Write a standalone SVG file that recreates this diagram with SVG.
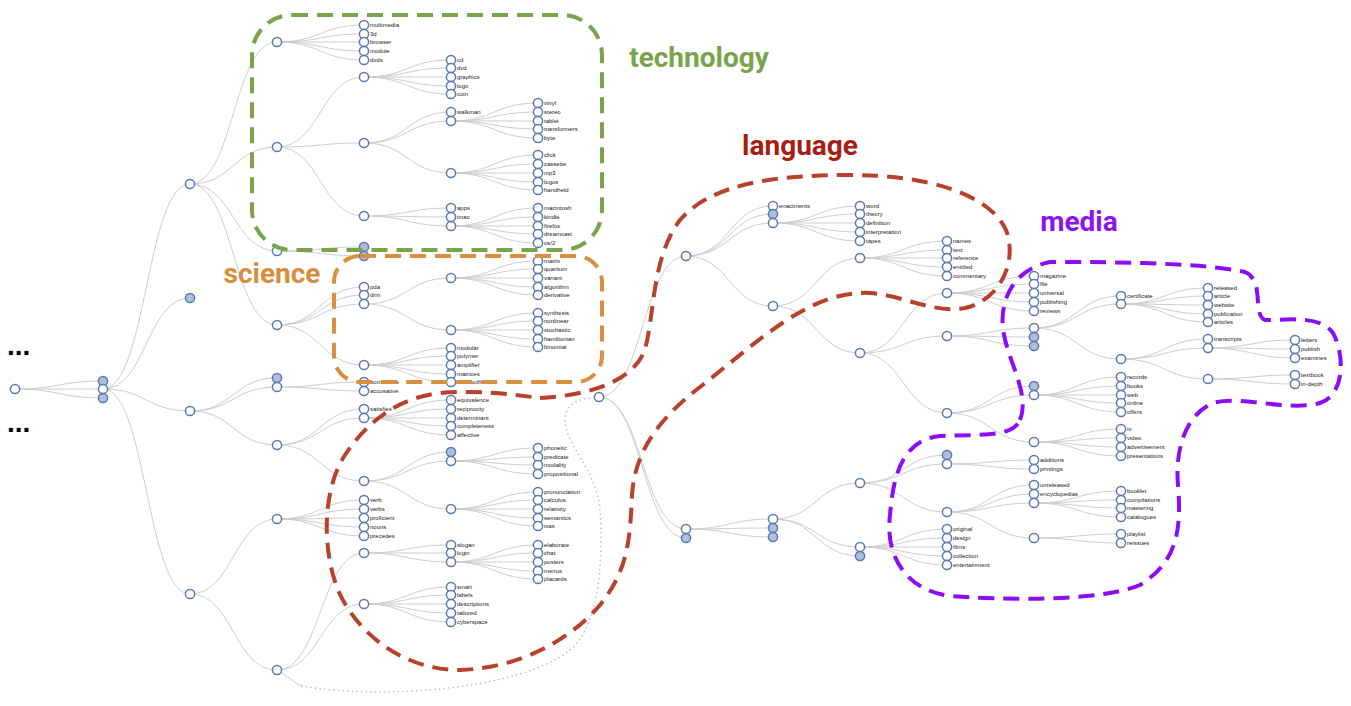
<svg xmlns="http://www.w3.org/2000/svg" width="1351" height="706" viewBox="0 0 1351 706">
<style>
.e path{fill:none;stroke:#cdcdcd;stroke-width:1}
.e path.dot{stroke:#bdbdbd;stroke-width:1.6;stroke-dasharray:0.1 4.5;stroke-linecap:round}
.n circle{fill:#fff;stroke:#5a78b4;stroke-width:1.5}
.n.c circle{fill:#b0bedd}
.n text{font-family:"Liberation Sans",Arial,sans-serif;font-size:6px;fill:#222}
.blob{fill:none;stroke-width:4;stroke-dasharray:16 9}
.title{font-family:Roboto,"Liberation Sans",sans-serif;font-weight:bold;font-size:28px;text-anchor:middle}
.more{font-family:"Liberation Sans",Arial,sans-serif;font-weight:bold;font-size:28px;fill:#000}
</style>
<rect width="1351" height="706" fill="#fff"/>
<g id="links" class="e">
<path d="M15,389C59,389 59,381 103,381M15,389H103M15,389C59,389 59,398 103,398"/>
<path d="M103,389C146.5,389 146.5,184 190,184M103,389C146.5,389 146.5,298 190,298M103,389C146.5,389 146.5,411 190,411M103,389C146.5,389 146.5,594 190,594"/>
<path d="M190,184C233.5,184 233.5,42 277,42M190,184C233.5,184 233.5,147 277,147M190,184C233.5,184 233.5,251 277,251M190,184C233.5,184 233.5,325 277,325"/>
<path d="M190,411C233.5,411 233.5,378 277,378M190,411C233.5,411 233.5,387 277,387M190,411C233.5,411 233.5,445 277,445"/>
<path d="M190,594C233.5,594 233.5,519 277,519M190,594C233.5,594 233.5,670 277,670"/>
<path d="M277,42C320.5,42 320.5,25 364,25M277,42C320.5,42 320.5,34 364,34M277,42H364M277,42C320.5,42 320.5,51 364,51M277,42C320.5,42 320.5,60 364,60"/>
<path d="M277,147C320.5,147 320.5,77 364,77M277,147C320.5,147 320.5,143 364,143M277,147C320.5,147 320.5,216 364,216"/>
<path d="M277,251C320.5,251 320.5,247 364,247M277,251C320.5,251 320.5,256 364,256"/>
<path d="M277,325C320.5,325 320.5,287 364,287M277,325C320.5,325 320.5,295 364,295M277,325C320.5,325 320.5,304 364,304M277,325C320.5,325 320.5,365 364,365"/>
<path d="M277,387C320.5,387 320.5,382 364,382M277,387C320.5,387 320.5,391 364,391"/>
<path d="M277,445C320.5,445 320.5,409 364,409M277,445C320.5,445 320.5,418 364,418M277,445C320.5,445 320.5,481 364,481"/>
<path d="M277,519C320.5,519 320.5,500 364,500M277,519C320.5,519 320.5,509 364,509M277,519C320.5,519 320.5,518 364,518M277,519C320.5,519 320.5,527 364,527M277,519C320.5,519 320.5,536 364,536"/>
<path d="M277,670C320.5,670 320.5,553 364,553M277,670C320.5,670 320.5,604 364,604"/>
<path d="M364,77C407.5,77 407.5,60 451,60M364,77C407.5,77 407.5,68 451,68M364,77H451M364,77C407.5,77 407.5,86 451,86M364,77C407.5,77 407.5,94 451,94"/>
<path d="M364,143C407.5,143 407.5,112 451,112M364,143C407.5,143 407.5,121 451,121M364,143C407.5,143 407.5,173 451,173"/>
<path d="M364,216C407.5,216 407.5,208 451,208M364,216C407.5,216 407.5,217 451,217M364,216C407.5,216 407.5,226 451,226"/>
<path d="M364,304C407.5,304 407.5,278 451,278M364,304C407.5,304 407.5,330 451,330"/>
<path d="M364,365C407.5,365 407.5,348 451,348M364,365C407.5,365 407.5,356 451,356M364,365H451M364,365C407.5,365 407.5,374 451,374M364,365C407.5,365 407.5,382 451,382"/>
<path d="M364,418C407.5,418 407.5,400 451,400M364,418C407.5,418 407.5,409 451,409M364,418H451M364,418C407.5,418 407.5,426 451,426M364,418C407.5,418 407.5,435 451,435"/>
<path d="M364,481C407.5,481 407.5,452 451,452M364,481C407.5,481 407.5,461 451,461M364,481C407.5,481 407.5,509 451,509"/>
<path d="M364,553C407.5,553 407.5,545 451,545M364,553H451M364,553C407.5,553 407.5,562 451,562"/>
<path d="M364,604C407.5,604 407.5,587 451,587M364,604C407.5,604 407.5,595 451,595M364,604H451M364,604C407.5,604 407.5,613 451,613M364,604C407.5,604 407.5,622 451,622"/>
<path d="M451,121C494.5,121 494.5,103 538,103M451,121C494.5,121 494.5,112 538,112M451,121H538M451,121C494.5,121 494.5,129 538,129M451,121C494.5,121 494.5,138 538,138"/>
<path d="M451,173C494.5,173 494.5,155 538,155M451,173C494.5,173 494.5,164 538,164M451,173H538M451,173C494.5,173 494.5,182 538,182M451,173C494.5,173 494.5,190 538,190"/>
<path d="M451,226C494.5,226 494.5,208 538,208M451,226C494.5,226 494.5,217 538,217M451,226H538M451,226C494.5,226 494.5,234 538,234M451,226C494.5,226 494.5,243 538,243"/>
<path d="M451,278C494.5,278 494.5,261 538,261M451,278C494.5,278 494.5,269 538,269M451,278H538M451,278C494.5,278 494.5,287 538,287M451,278C494.5,278 494.5,295 538,295"/>
<path d="M451,330C494.5,330 494.5,313 538,313M451,330C494.5,330 494.5,321 538,321M451,330H538M451,330C494.5,330 494.5,339 538,339M451,330C494.5,330 494.5,347 538,347"/>
<path d="M451,461C494.5,461 494.5,448 538,448M451,461C494.5,461 494.5,457 538,457M451,461C494.5,461 494.5,465 538,465M451,461C494.5,461 494.5,474 538,474"/>
<path d="M451,509C494.5,509 494.5,492 538,492M451,509C494.5,509 494.5,500 538,500M451,509H538M451,509C494.5,509 494.5,518 538,518M451,509C494.5,509 494.5,526 538,526"/>
<path d="M451,562C494.5,562 494.5,545 538,545M451,562C494.5,562 494.5,553 538,553M451,562H538M451,562C494.5,562 494.5,571 538,571M451,562C494.5,562 494.5,579 538,579"/>
<path d="M599,397C642.5,397 642.5,256 686,256M599,397C642.5,397 642.5,529 686,529M599,397C642.5,397 642.5,538 686,538"/>
<path d="M686,256C729.5,256 729.5,206 773,206M686,256C729.5,256 729.5,214 773,214M686,256C729.5,256 729.5,223 773,223M686,256C729.5,256 729.5,306 773,306"/>
<path d="M773,223C816.5,223 816.5,206 860,206M773,223C816.5,223 816.5,214 860,214M773,223H860M773,223C816.5,223 816.5,232 860,232M773,223C816.5,223 816.5,241 860,241"/>
<path d="M773,306C816.5,306 816.5,258 860,258M773,306C816.5,306 816.5,353 860,353"/>
<path d="M860,258C903.5,258 903.5,241 947,241M860,258C903.5,258 903.5,250 947,250M860,258H947M860,258C903.5,258 903.5,267 947,267M860,258C903.5,258 903.5,276 947,276"/>
<path d="M860,353C903.5,353 903.5,293 947,293M860,353C903.5,353 903.5,336 947,336M860,353C903.5,353 903.5,413 947,413"/>
<path d="M947,293C990.5,293 990.5,276 1034,276M947,293C990.5,293 990.5,284 1034,284M947,293H1034M947,293C990.5,293 990.5,302 1034,302M947,293C990.5,293 990.5,311 1034,311"/>
<path d="M947,336C990.5,336 990.5,328 1034,328M947,336C990.5,336 990.5,337 1034,337M947,336C990.5,336 990.5,346 1034,346"/>
<path d="M947,413C990.5,413 990.5,386 1034,386M947,413C990.5,413 990.5,395 1034,395M947,413C990.5,413 990.5,442 1034,442"/>
<path d="M1034,328C1077.5,328 1077.5,296 1121,296M1034,328C1077.5,328 1077.5,304 1121,304M1034,328C1077.5,328 1077.5,359 1121,359"/>
<path d="M1121,304C1164.5,304 1164.5,288 1208,288M1121,304C1164.5,304 1164.5,296 1208,296M1121,304C1164.5,304 1164.5,305 1208,305M1121,304C1164.5,304 1164.5,314 1208,314M1121,304C1164.5,304 1164.5,322 1208,322"/>
<path d="M1121,359C1164.5,359 1164.5,339 1208,339M1121,359C1164.5,359 1164.5,348 1208,348M1121,359C1164.5,359 1164.5,379 1208,379"/>
<path d="M1208,348C1251.5,348 1251.5,340 1295,340M1208,348C1251.5,348 1251.5,349 1295,349M1208,348C1251.5,348 1251.5,358 1295,358"/>
<path d="M1208,379C1251.5,379 1251.5,375 1295,375M1208,379C1251.5,379 1251.5,384 1295,384"/>
<path d="M1034,395C1077.5,395 1077.5,377 1121,377M1034,395C1077.5,395 1077.5,386 1121,386M1034,395H1121M1034,395C1077.5,395 1077.5,403 1121,403M1034,395C1077.5,395 1077.5,412 1121,412"/>
<path d="M1034,442C1077.5,442 1077.5,429 1121,429M1034,442C1077.5,442 1077.5,438 1121,438M1034,442C1077.5,442 1077.5,447 1121,447M1034,442C1077.5,442 1077.5,456 1121,456"/>
<path d="M686,529C729.5,529 729.5,519 773,519M686,529C729.5,529 729.5,528 773,528M686,529C729.5,529 729.5,537 773,537"/>
<path d="M773,519C816.5,519 816.5,483 860,483M773,519C816.5,519 816.5,547 860,547M773,519C816.5,519 816.5,556 860,556"/>
<path d="M860,483C903.5,483 903.5,455 947,455M860,483C903.5,483 903.5,464 947,464M860,483C903.5,483 903.5,512 947,512"/>
<path d="M947,464C990.5,464 990.5,460 1034,460M947,464C990.5,464 990.5,469 1034,469"/>
<path d="M947,512C990.5,512 990.5,485 1034,485M947,512C990.5,512 990.5,494 1034,494M947,512C990.5,512 990.5,503 1034,503M947,512C990.5,512 990.5,538 1034,538"/>
<path d="M1034,503C1077.5,503 1077.5,491 1121,491M1034,503C1077.5,503 1077.5,500 1121,500M1034,503C1077.5,503 1077.5,508 1121,508M1034,503C1077.5,503 1077.5,517 1121,517"/>
<path d="M1034,538C1077.5,538 1077.5,534 1121,534M1034,538C1077.5,538 1077.5,543 1121,543"/>
<path d="M860,547C903.5,547 903.5,529 947,529M860,547C903.5,547 903.5,538 947,538M860,547H947M860,547C903.5,547 903.5,556 947,556M860,547C903.5,547 903.5,565 947,565"/>
<path d="M277,670C288,676 294,683 302,686"/>
<path class="dot" d="M302,686C380,700 520,690 570,650C600,625 603,560 600,510C597,470 565,445 565,420C565,405 578,399 590,398"/>
</g>
<g id="nodes">
<g id="n-root" class="n" transform="translate(15,389)"><circle r="4.6"/></g>
<g id="n-103-381" class="n c" transform="translate(103,381)"><circle r="4.6"/></g>
<g id="n-103-398" class="n c" transform="translate(103,398)"><circle r="4.6"/></g>
<g id="n-103-389" class="n" transform="translate(103,389)"><circle r="4.6"/></g>
<g id="n-190-184" class="n" transform="translate(190,184)"><circle r="4.6"/></g>
<g id="n-190-298" class="n c" transform="translate(190,298)"><circle r="4.6"/></g>
<g id="n-190-411" class="n" transform="translate(190,411)"><circle r="4.6"/></g>
<g id="n-190-594" class="n" transform="translate(190,594)"><circle r="4.6"/></g>
<g id="n-277-42" class="n" transform="translate(277,42)"><circle r="4.6"/></g>
<g id="n-277-147" class="n" transform="translate(277,147)"><circle r="4.6"/></g>
<g id="n-277-251" class="n" transform="translate(277,251)"><circle r="4.6"/></g>
<g id="n-277-325" class="n" transform="translate(277,325)"><circle r="4.6"/></g>
<g id="n-277-378" class="n c" transform="translate(277,378)"><circle r="4.6"/></g>
<g id="n-277-387" class="n" transform="translate(277,387)"><circle r="4.6"/></g>
<g id="n-277-445" class="n" transform="translate(277,445)"><circle r="4.6"/></g>
<g id="n-277-519" class="n" transform="translate(277,519)"><circle r="4.6"/></g>
<g id="n-277-670" class="n" transform="translate(277,670)"><circle r="4.6"/></g>
<g id="n-multimedia" class="n" transform="translate(364,25)"><circle r="4.6"/><text x="6" y="2.1">multimedia</text></g>
<g id="n-3d" class="n" transform="translate(364,34)"><circle r="4.6"/><text x="6" y="2.1">3d</text></g>
<g id="n-browser" class="n" transform="translate(364,42)"><circle r="4.6"/><text x="6" y="2.1">browser</text></g>
<g id="n-module" class="n" transform="translate(364,51)"><circle r="4.6"/><text x="6" y="2.1">module</text></g>
<g id="n-dvds" class="n" transform="translate(364,60)"><circle r="4.6"/><text x="6" y="2.1">dvds</text></g>
<g id="n-364-77" class="n" transform="translate(364,77)"><circle r="4.6"/></g>
<g id="n-364-143" class="n" transform="translate(364,143)"><circle r="4.6"/></g>
<g id="n-364-216" class="n" transform="translate(364,216)"><circle r="4.6"/></g>
<g id="n-364-247" class="n c" transform="translate(364,247)"><circle r="4.6"/></g>
<g id="n-364-256" class="n c" transform="translate(364,256)"><circle r="4.6"/></g>
<g id="n-pda" class="n" transform="translate(364,287)"><circle r="4.6"/><text x="6" y="2.1">pda</text></g>
<g id="n-drm" class="n" transform="translate(364,295)"><circle r="4.6"/><text x="6" y="2.1">drm</text></g>
<g id="n-364-304" class="n" transform="translate(364,304)"><circle r="4.6"/></g>
<g id="n-364-365" class="n" transform="translate(364,365)"><circle r="4.6"/></g>
<g id="n-nominative" class="n" transform="translate(364,382)"><circle r="4.6"/><text x="6" y="2.1">nominative</text></g>
<g id="n-accusative" class="n" transform="translate(364,391)"><circle r="4.6"/><text x="6" y="2.1">accusative</text></g>
<g id="n-satisfies" class="n" transform="translate(364,409)"><circle r="4.6"/><text x="6" y="2.1">satisfies</text></g>
<g id="n-364-418" class="n" transform="translate(364,418)"><circle r="4.6"/></g>
<g id="n-364-481" class="n" transform="translate(364,481)"><circle r="4.6"/></g>
<g id="n-verb" class="n" transform="translate(364,500)"><circle r="4.6"/><text x="6" y="2.1">verb</text></g>
<g id="n-verbs" class="n" transform="translate(364,509)"><circle r="4.6"/><text x="6" y="2.1">verbs</text></g>
<g id="n-proficient" class="n" transform="translate(364,518)"><circle r="4.6"/><text x="6" y="2.1">proficient</text></g>
<g id="n-nouns" class="n" transform="translate(364,527)"><circle r="4.6"/><text x="6" y="2.1">nouns</text></g>
<g id="n-precedes" class="n" transform="translate(364,536)"><circle r="4.6"/><text x="6" y="2.1">precedes</text></g>
<g id="n-364-553" class="n" transform="translate(364,553)"><circle r="4.6"/></g>
<g id="n-364-604" class="n" transform="translate(364,604)"><circle r="4.6"/></g>
<g id="n-cd" class="n" transform="translate(451,60)"><circle r="4.6"/><text x="6" y="2.1">cd</text></g>
<g id="n-dvd" class="n" transform="translate(451,68)"><circle r="4.6"/><text x="6" y="2.1">dvd</text></g>
<g id="n-graphics" class="n" transform="translate(451,77)"><circle r="4.6"/><text x="6" y="2.1">graphics</text></g>
<g id="n-logo" class="n" transform="translate(451,86)"><circle r="4.6"/><text x="6" y="2.1">logo</text></g>
<g id="n-coin" class="n" transform="translate(451,94)"><circle r="4.6"/><text x="6" y="2.1">coin</text></g>
<g id="n-walkman" class="n" transform="translate(451,112)"><circle r="4.6"/><text x="6" y="2.1">walkman</text></g>
<g id="n-451-121" class="n" transform="translate(451,121)"><circle r="4.6"/></g>
<g id="n-451-173" class="n" transform="translate(451,173)"><circle r="4.6"/></g>
<g id="n-apps" class="n" transform="translate(451,208)"><circle r="4.6"/><text x="6" y="2.1">apps</text></g>
<g id="n-imac" class="n" transform="translate(451,217)"><circle r="4.6"/><text x="6" y="2.1">imac</text></g>
<g id="n-451-226" class="n" transform="translate(451,226)"><circle r="4.6"/></g>
<g id="n-451-278" class="n" transform="translate(451,278)"><circle r="4.6"/></g>
<g id="n-451-330" class="n" transform="translate(451,330)"><circle r="4.6"/></g>
<g id="n-modular" class="n" transform="translate(451,348)"><circle r="4.6"/><text x="6" y="2.1">modular</text></g>
<g id="n-polymer" class="n" transform="translate(451,356)"><circle r="4.6"/><text x="6" y="2.1">polymer</text></g>
<g id="n-amplifier" class="n" transform="translate(451,365)"><circle r="4.6"/><text x="6" y="2.1">amplifier</text></g>
<g id="n-matrices" class="n" transform="translate(451,374)"><circle r="4.6"/><text x="6" y="2.1">matrices</text></g>
<g id="n-bluetooth" class="n" transform="translate(451,382)"><circle r="4.6"/><text x="6" y="2.1">bluetooth</text></g>
<g id="n-equivalence" class="n" transform="translate(451,400)"><circle r="4.6"/><text x="6" y="2.1">equivalence</text></g>
<g id="n-reciprocity" class="n" transform="translate(451,409)"><circle r="4.6"/><text x="6" y="2.1">reciprocity</text></g>
<g id="n-determinant" class="n" transform="translate(451,418)"><circle r="4.6"/><text x="6" y="2.1">determinant</text></g>
<g id="n-completeness" class="n" transform="translate(451,426)"><circle r="4.6"/><text x="6" y="2.1">completeness</text></g>
<g id="n-affective" class="n" transform="translate(451,435)"><circle r="4.6"/><text x="6" y="2.1">affective</text></g>
<g id="n-451-452" class="n c" transform="translate(451,452)"><circle r="4.6"/></g>
<g id="n-451-461" class="n" transform="translate(451,461)"><circle r="4.6"/></g>
<g id="n-451-509" class="n" transform="translate(451,509)"><circle r="4.6"/></g>
<g id="n-slogan" class="n" transform="translate(451,545)"><circle r="4.6"/><text x="6" y="2.1">slogan</text></g>
<g id="n-login" class="n" transform="translate(451,553)"><circle r="4.6"/><text x="6" y="2.1">login</text></g>
<g id="n-451-562" class="n" transform="translate(451,562)"><circle r="4.6"/></g>
<g id="n-smart" class="n" transform="translate(451,587)"><circle r="4.6"/><text x="6" y="2.1">smart</text></g>
<g id="n-labels" class="n" transform="translate(451,595)"><circle r="4.6"/><text x="6" y="2.1">labels</text></g>
<g id="n-descriptions" class="n" transform="translate(451,604)"><circle r="4.6"/><text x="6" y="2.1">descriptions</text></g>
<g id="n-tailored" class="n" transform="translate(451,613)"><circle r="4.6"/><text x="6" y="2.1">tailored</text></g>
<g id="n-cyberspace" class="n" transform="translate(451,622)"><circle r="4.6"/><text x="6" y="2.1">cyberspace</text></g>
<g id="n-vinyl" class="n" transform="translate(538,103)"><circle r="4.6"/><text x="6" y="2.1">vinyl</text></g>
<g id="n-stereo" class="n" transform="translate(538,112)"><circle r="4.6"/><text x="6" y="2.1">stereo</text></g>
<g id="n-tablet" class="n" transform="translate(538,121)"><circle r="4.6"/><text x="6" y="2.1">tablet</text></g>
<g id="n-transformers" class="n" transform="translate(538,129)"><circle r="4.6"/><text x="6" y="2.1">transformers</text></g>
<g id="n-byte" class="n" transform="translate(538,138)"><circle r="4.6"/><text x="6" y="2.1">byte</text></g>
<g id="n-click" class="n" transform="translate(538,155)"><circle r="4.6"/><text x="6" y="2.1">click</text></g>
<g id="n-cassette" class="n" transform="translate(538,164)"><circle r="4.6"/><text x="6" y="2.1">cassette</text></g>
<g id="n-mp3" class="n" transform="translate(538,173)"><circle r="4.6"/><text x="6" y="2.1">mp3</text></g>
<g id="n-logos" class="n" transform="translate(538,182)"><circle r="4.6"/><text x="6" y="2.1">logos</text></g>
<g id="n-handheld" class="n" transform="translate(538,190)"><circle r="4.6"/><text x="6" y="2.1">handheld</text></g>
<g id="n-macintosh" class="n" transform="translate(538,208)"><circle r="4.6"/><text x="6" y="2.1">macintosh</text></g>
<g id="n-kindle" class="n" transform="translate(538,217)"><circle r="4.6"/><text x="6" y="2.1">kindle</text></g>
<g id="n-firefox" class="n" transform="translate(538,226)"><circle r="4.6"/><text x="6" y="2.1">firefox</text></g>
<g id="n-dreamcast" class="n" transform="translate(538,234)"><circle r="4.6"/><text x="6" y="2.1">dreamcast</text></g>
<g id="n-os2" class="n" transform="translate(538,243)"><circle r="4.6"/><text x="6" y="2.1">os/2</text></g>
<g id="n-matrix" class="n" transform="translate(538,261)"><circle r="4.6"/><text x="6" y="2.1">matrix</text></g>
<g id="n-quantum" class="n" transform="translate(538,269)"><circle r="4.6"/><text x="6" y="2.1">quantum</text></g>
<g id="n-variant" class="n" transform="translate(538,278)"><circle r="4.6"/><text x="6" y="2.1">variant</text></g>
<g id="n-algorithm" class="n" transform="translate(538,287)"><circle r="4.6"/><text x="6" y="2.1">algorithm</text></g>
<g id="n-derivative" class="n" transform="translate(538,295)"><circle r="4.6"/><text x="6" y="2.1">derivative</text></g>
<g id="n-synthesis" class="n" transform="translate(538,313)"><circle r="4.6"/><text x="6" y="2.1">synthesis</text></g>
<g id="n-nonlinear" class="n" transform="translate(538,321)"><circle r="4.6"/><text x="6" y="2.1">nonlinear</text></g>
<g id="n-stochastic" class="n" transform="translate(538,330)"><circle r="4.6"/><text x="6" y="2.1">stochastic</text></g>
<g id="n-hamiltonian" class="n" transform="translate(538,339)"><circle r="4.6"/><text x="6" y="2.1">hamiltonian</text></g>
<g id="n-binomial" class="n" transform="translate(538,347)"><circle r="4.6"/><text x="6" y="2.1">binomial</text></g>
<g id="n-phonetic" class="n" transform="translate(538,448)"><circle r="4.6"/><text x="6" y="2.1">phonetic</text></g>
<g id="n-predicate" class="n" transform="translate(538,457)"><circle r="4.6"/><text x="6" y="2.1">predicate</text></g>
<g id="n-modality" class="n" transform="translate(538,465)"><circle r="4.6"/><text x="6" y="2.1">modality</text></g>
<g id="n-propositional" class="n" transform="translate(538,474)"><circle r="4.6"/><text x="6" y="2.1">propositional</text></g>
<g id="n-pronunciation" class="n" transform="translate(538,492)"><circle r="4.6"/><text x="6" y="2.1">pronunciation</text></g>
<g id="n-calculus" class="n" transform="translate(538,500)"><circle r="4.6"/><text x="6" y="2.1">calculus</text></g>
<g id="n-relativity" class="n" transform="translate(538,509)"><circle r="4.6"/><text x="6" y="2.1">relativity</text></g>
<g id="n-semantics" class="n" transform="translate(538,518)"><circle r="4.6"/><text x="6" y="2.1">semantics</text></g>
<g id="n-ixas" class="n" transform="translate(538,526)"><circle r="4.6"/><text x="6" y="2.1">ixas</text></g>
<g id="n-elaborate" class="n" transform="translate(538,545)"><circle r="4.6"/><text x="6" y="2.1">elaborate</text></g>
<g id="n-chat" class="n" transform="translate(538,553)"><circle r="4.6"/><text x="6" y="2.1">chat</text></g>
<g id="n-posters" class="n" transform="translate(538,562)"><circle r="4.6"/><text x="6" y="2.1">posters</text></g>
<g id="n-menus" class="n" transform="translate(538,571)"><circle r="4.6"/><text x="6" y="2.1">menus</text></g>
<g id="n-placards" class="n" transform="translate(538,579)"><circle r="4.6"/><text x="6" y="2.1">placards</text></g>
<g id="n-599-397" class="n" transform="translate(599,397)"><circle r="4.6"/></g>
<g id="n-686-256" class="n" transform="translate(686,256)"><circle r="4.6"/></g>
<g id="n-686-529" class="n" transform="translate(686,529)"><circle r="4.6"/></g>
<g id="n-686-538" class="n c" transform="translate(686,538)"><circle r="4.6"/></g>
<g id="n-enactments" class="n" transform="translate(773,206)"><circle r="4.6"/><text x="6" y="2.1">enactments</text></g>
<g id="n-773-214" class="n c" transform="translate(773,214)"><circle r="4.6"/></g>
<g id="n-773-223" class="n" transform="translate(773,223)"><circle r="4.6"/></g>
<g id="n-773-306" class="n" transform="translate(773,306)"><circle r="4.6"/></g>
<g id="n-773-519" class="n" transform="translate(773,519)"><circle r="4.6"/></g>
<g id="n-773-528" class="n c" transform="translate(773,528)"><circle r="4.6"/></g>
<g id="n-773-537" class="n c" transform="translate(773,537)"><circle r="4.6"/></g>
<g id="n-word" class="n" transform="translate(860,206)"><circle r="4.6"/><text x="6" y="2.1">word</text></g>
<g id="n-theory" class="n" transform="translate(860,214)"><circle r="4.6"/><text x="6" y="2.1">theory</text></g>
<g id="n-definition" class="n" transform="translate(860,223)"><circle r="4.6"/><text x="6" y="2.1">definition</text></g>
<g id="n-interpretation" class="n" transform="translate(860,232)"><circle r="4.6"/><text x="6" y="2.1">interpretation</text></g>
<g id="n-tapes" class="n" transform="translate(860,241)"><circle r="4.6"/><text x="6" y="2.1">tapes</text></g>
<g id="n-860-258" class="n" transform="translate(860,258)"><circle r="4.6"/></g>
<g id="n-860-353" class="n" transform="translate(860,353)"><circle r="4.6"/></g>
<g id="n-860-483" class="n" transform="translate(860,483)"><circle r="4.6"/></g>
<g id="n-860-547" class="n" transform="translate(860,547)"><circle r="4.6"/></g>
<g id="n-860-556" class="n c" transform="translate(860,556)"><circle r="4.6"/></g>
<g id="n-names" class="n" transform="translate(947,241)"><circle r="4.6"/><text x="6" y="2.1">names</text></g>
<g id="n-text" class="n" transform="translate(947,250)"><circle r="4.6"/><text x="6" y="2.1">text</text></g>
<g id="n-reference" class="n" transform="translate(947,258)"><circle r="4.6"/><text x="6" y="2.1">reference</text></g>
<g id="n-entitled" class="n" transform="translate(947,267)"><circle r="4.6"/><text x="6" y="2.1">entitled</text></g>
<g id="n-commentary" class="n" transform="translate(947,276)"><circle r="4.6"/><text x="6" y="2.1">commentary</text></g>
<g id="n-947-293" class="n" transform="translate(947,293)"><circle r="4.6"/></g>
<g id="n-947-336" class="n" transform="translate(947,336)"><circle r="4.6"/></g>
<g id="n-947-413" class="n" transform="translate(947,413)"><circle r="4.6"/></g>
<g id="n-947-455" class="n c" transform="translate(947,455)"><circle r="4.6"/></g>
<g id="n-947-464" class="n" transform="translate(947,464)"><circle r="4.6"/></g>
<g id="n-947-512" class="n" transform="translate(947,512)"><circle r="4.6"/></g>
<g id="n-original" class="n" transform="translate(947,529)"><circle r="4.6"/><text x="6" y="2.1">original</text></g>
<g id="n-design" class="n" transform="translate(947,538)"><circle r="4.6"/><text x="6" y="2.1">design</text></g>
<g id="n-films" class="n" transform="translate(947,547)"><circle r="4.6"/><text x="6" y="2.1">films</text></g>
<g id="n-collection" class="n" transform="translate(947,556)"><circle r="4.6"/><text x="6" y="2.1">collection</text></g>
<g id="n-entertainment" class="n" transform="translate(947,565)"><circle r="4.6"/><text x="6" y="2.1">entertainment</text></g>
<g id="n-magazine" class="n" transform="translate(1034,276)"><circle r="4.6"/><text x="6" y="2.1">magazine</text></g>
<g id="n-file" class="n" transform="translate(1034,284)"><circle r="4.6"/><text x="6" y="2.1">file</text></g>
<g id="n-universal" class="n" transform="translate(1034,293)"><circle r="4.6"/><text x="6" y="2.1">universal</text></g>
<g id="n-publishing" class="n" transform="translate(1034,302)"><circle r="4.6"/><text x="6" y="2.1">publishing</text></g>
<g id="n-reviews" class="n" transform="translate(1034,311)"><circle r="4.6"/><text x="6" y="2.1">reviews</text></g>
<g id="n-1034-328" class="n" transform="translate(1034,328)"><circle r="4.6"/></g>
<g id="n-1034-337" class="n c" transform="translate(1034,337)"><circle r="4.6"/></g>
<g id="n-1034-346" class="n c" transform="translate(1034,346)"><circle r="4.6"/></g>
<g id="n-1034-386" class="n c" transform="translate(1034,386)"><circle r="4.6"/></g>
<g id="n-1034-395" class="n" transform="translate(1034,395)"><circle r="4.6"/></g>
<g id="n-1034-442" class="n" transform="translate(1034,442)"><circle r="4.6"/></g>
<g id="n-additions" class="n" transform="translate(1034,460)"><circle r="4.6"/><text x="6" y="2.1">additions</text></g>
<g id="n-printings" class="n" transform="translate(1034,469)"><circle r="4.6"/><text x="6" y="2.1">printings</text></g>
<g id="n-unreleased" class="n" transform="translate(1034,485)"><circle r="4.6"/><text x="6" y="2.1">unreleased</text></g>
<g id="n-encyclopedias" class="n" transform="translate(1034,494)"><circle r="4.6"/><text x="6" y="2.1">encyclopedias</text></g>
<g id="n-1034-503" class="n" transform="translate(1034,503)"><circle r="4.6"/></g>
<g id="n-1034-538" class="n" transform="translate(1034,538)"><circle r="4.6"/></g>
<g id="n-certificate" class="n" transform="translate(1121,296)"><circle r="4.6"/><text x="6" y="2.1">certificate</text></g>
<g id="n-1121-304" class="n" transform="translate(1121,304)"><circle r="4.6"/></g>
<g id="n-1121-359" class="n" transform="translate(1121,359)"><circle r="4.6"/></g>
<g id="n-records" class="n" transform="translate(1121,377)"><circle r="4.6"/><text x="6" y="2.1">records</text></g>
<g id="n-books" class="n" transform="translate(1121,386)"><circle r="4.6"/><text x="6" y="2.1">books</text></g>
<g id="n-web" class="n" transform="translate(1121,395)"><circle r="4.6"/><text x="6" y="2.1">web</text></g>
<g id="n-online" class="n" transform="translate(1121,403)"><circle r="4.6"/><text x="6" y="2.1">online</text></g>
<g id="n-offers" class="n" transform="translate(1121,412)"><circle r="4.6"/><text x="6" y="2.1">offers</text></g>
<g id="n-tv" class="n" transform="translate(1121,429)"><circle r="4.6"/><text x="6" y="2.1">tv</text></g>
<g id="n-video" class="n" transform="translate(1121,438)"><circle r="4.6"/><text x="6" y="2.1">video</text></g>
<g id="n-advertisement" class="n" transform="translate(1121,447)"><circle r="4.6"/><text x="6" y="2.1">advertisement</text></g>
<g id="n-presentations" class="n" transform="translate(1121,456)"><circle r="4.6"/><text x="6" y="2.1">presentations</text></g>
<g id="n-booklet" class="n" transform="translate(1121,491)"><circle r="4.6"/><text x="6" y="2.1">booklet</text></g>
<g id="n-compilations" class="n" transform="translate(1121,500)"><circle r="4.6"/><text x="6" y="2.1">compilations</text></g>
<g id="n-mastering" class="n" transform="translate(1121,508)"><circle r="4.6"/><text x="6" y="2.1">mastering</text></g>
<g id="n-catalogues" class="n" transform="translate(1121,517)"><circle r="4.6"/><text x="6" y="2.1">catalogues</text></g>
<g id="n-playlist" class="n" transform="translate(1121,534)"><circle r="4.6"/><text x="6" y="2.1">playlist</text></g>
<g id="n-reissues" class="n" transform="translate(1121,543)"><circle r="4.6"/><text x="6" y="2.1">reissues</text></g>
<g id="n-released" class="n" transform="translate(1208,288)"><circle r="4.6"/><text x="6" y="2.1">released</text></g>
<g id="n-article" class="n" transform="translate(1208,296)"><circle r="4.6"/><text x="6" y="2.1">article</text></g>
<g id="n-website" class="n" transform="translate(1208,305)"><circle r="4.6"/><text x="6" y="2.1">website</text></g>
<g id="n-publication" class="n" transform="translate(1208,314)"><circle r="4.6"/><text x="6" y="2.1">publication</text></g>
<g id="n-articles" class="n" transform="translate(1208,322)"><circle r="4.6"/><text x="6" y="2.1">articles</text></g>
<g id="n-transcripts" class="n" transform="translate(1208,339)"><circle r="4.6"/><text x="6" y="2.1">transcripts</text></g>
<g id="n-1208-348" class="n" transform="translate(1208,348)"><circle r="4.6"/></g>
<g id="n-1208-379" class="n" transform="translate(1208,379)"><circle r="4.6"/></g>
<g id="n-letters" class="n" transform="translate(1295,340)"><circle r="4.6"/><text x="6" y="2.1">letters</text></g>
<g id="n-publish" class="n" transform="translate(1295,349)"><circle r="4.6"/><text x="6" y="2.1">publish</text></g>
<g id="n-examines" class="n" transform="translate(1295,358)"><circle r="4.6"/><text x="6" y="2.1">examines</text></g>
<g id="n-textbook" class="n" transform="translate(1295,375)"><circle r="4.6"/><text x="6" y="2.1">textbook</text></g>
<g id="n-in-depth" class="n" transform="translate(1295,384)"><circle r="4.6"/><text x="6" y="2.1">in-depth</text></g>
</g>
<g id="groups">
<rect id="g-technology" class="blob" x="252" y="15" width="350" height="235" rx="40" stroke="#7aa44c"/>
<rect id="g-science" class="blob" x="334" y="256" width="268" height="126" rx="26" stroke="#d9903e"/>
<path id="g-language" class="blob" stroke="#b8412b" d="M540,398C580,396 630,385 644,352C655,320 650,260 680,220C710,185 770,175 850,175C930,175 990,195 1006,230C1018,262 1000,300 965,308C935,314 905,296 870,293C810,290 760,340 700,387C660,418 635,450 632,495C630,540 628,570 600,605C570,640 520,668 460,670C400,670 355,630 338,590C322,550 322,490 345,455C365,425 395,398 440,393C480,390 510,394 540,398Z"/>
<path id="g-media" class="blob" stroke="#8c0cf7" d="M1020,420C1030,395 1010,365 1004,335C998,305 1010,270 1050,262C1100,262 1200,262 1245,272C1265,280 1252,315 1265,320C1290,320 1320,315 1333,333C1345,355 1345,395 1320,403C1290,412 1240,395 1213,403C1185,415 1175,450 1178,485C1181,525 1180,560 1140,585C1100,602 1000,600 950,596C905,590 885,555 890,515C893,480 900,440 940,436C980,434 1012,438 1020,420Z"/>
<text class="title" x="699" y="67" fill="#7aa44c">technology</text>
<text class="title" x="272" y="283" fill="#d88d3c">science</text>
<text class="title" x="800" y="155" fill="#a81c12">language</text>
<text class="title" x="1079" y="231" fill="#8c14f0">media</text>
</g>
<text class="more" x="7" y="355">...</text>
<text class="more" x="7" y="432">...</text>
</svg>
